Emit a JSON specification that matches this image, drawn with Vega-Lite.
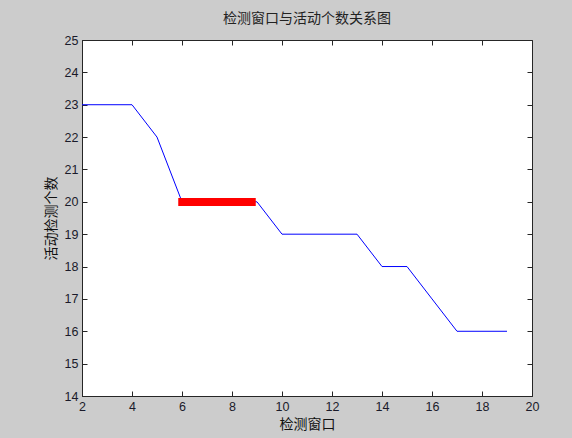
{
  "$schema": "https://vega.github.io/schema/vega-lite/v6.json",
  "width": 450,
  "height": 356,
  "autosize": {"type": "none"},
  "padding": {"left": 82, "top": 40, "right": 40, "bottom": 42},
  "background": "#cccccc",
  "title": {"text": "检测窗口与活动个数关系图", "font": "Noto Sans CJK SC", "fontSize": 14, "fontWeight": "normal", "color": "#222", "offset": 8, "anchor": "middle"},
  "config": {
    "view": {"fill": "white", "stroke": "#262626", "strokeWidth": 1},
    "axis": {"grid": false, "domainColor": "#262626", "tickColor": "#262626", "tickSize": -5, "labelFont": "Liberation Sans", "labelFontSize": 12.5, "labelColor": "#1a1a2a", "titleFont": "Noto Sans CJK SC", "titleFontSize": 14, "titleFontWeight": "normal", "titleColor": "#111"}
  },
  "datasets": {
    "line": [
      {"x": 2, "y": 23}, {"x": 3, "y": 23}, {"x": 4, "y": 23}, {"x": 5, "y": 22},
      {"x": 6, "y": 20}, {"x": 7, "y": 20}, {"x": 8, "y": 20}, {"x": 9, "y": 20},
      {"x": 10, "y": 19}, {"x": 11, "y": 19}, {"x": 12, "y": 19}, {"x": 13, "y": 19},
      {"x": 14, "y": 18}, {"x": 15, "y": 18}, {"x": 16, "y": 17}, {"x": 17, "y": 16},
      {"x": 18, "y": 16}, {"x": 19, "y": 16}
    ],
    "seg": [{"x": 5.85, "x2": 8.95, "y": 19.87, "y2": 20.12}]
  },
  "layer": [
    {
      "data": {"name": "line"},
      "mark": {"type": "line", "color": "#0000ff", "strokeWidth": 1},
      "encoding": {
        "x": {"field": "x", "type": "quantitative", "scale": {"domain": [2, 20], "nice": false, "zero": false},
              "axis": {"orient": "bottom", "title": "检测窗口", "values": [2,4,6,8,10,12,14,16,18,20], "labelPadding": 9, "titlePadding": 5, "labelFlush": false}},
        "y": {"field": "y", "type": "quantitative", "scale": {"domain": [14, 25], "nice": false, "zero": false},
              "axis": {"orient": "left", "title": "活动检测个数", "values": [14,15,16,17,18,19,20,21,22,23,24,25], "labelPadding": 9, "titlePadding": 6, "labelFlush": false}}
      }
    },
    {
      "data": {"name": "seg"},
      "mark": {"type": "rect", "color": "#ff0000"},
      "encoding": {
        "x": {"field": "x", "type": "quantitative", "axis": {"orient": "top", "title": null, "labels": false, "domain": false, "values": [2,4,6,8,10,12,14,16,18,20]}},
        "x2": {"field": "x2"},
        "y": {"field": "y", "type": "quantitative", "axis": {"orient": "right", "title": null, "labels": false, "domain": false, "values": [14,15,16,17,18,19,20,21,22,23,24,25]}},
        "y2": {"field": "y2"}
      }
    }
  ],
  "resolve": {"axis": {"x": "independent", "y": "independent"}}
}
